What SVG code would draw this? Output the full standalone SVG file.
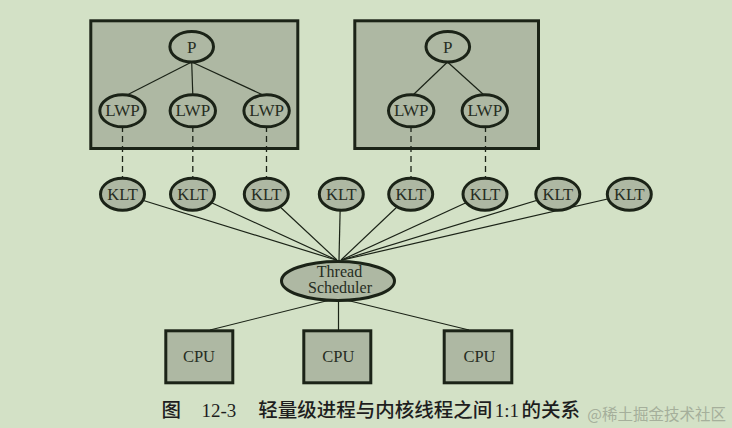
<svg xmlns="http://www.w3.org/2000/svg" width="732" height="428" viewBox="0 0 732 428">
  <style>
    .bg { fill: #d3e1c6; }
    .box { fill: #aeb8a3; stroke: #1b2317; stroke-width: 3; }
    .node { fill: #aeb8a3; stroke: #1b2317; stroke-width: 3; }
    .line { stroke: #1b2317; stroke-width: 1.2; fill: none; }
    .dash { stroke: #1b2317; stroke-width: 1.3; fill: none; stroke-dasharray: 6 4; }
    .lbl { font-family: "Liberation Serif", "Times New Roman", serif; font-size: 16.5px; fill: #262d22; text-anchor: middle; }
    .lbl17 { font-family: "Liberation Serif", "Times New Roman", serif; font-size: 17px; fill: #262d22; text-anchor: middle; }
    .sch { font-family: "Liberation Serif", "Times New Roman", serif; font-size: 16px; fill: #262d22; text-anchor: middle; }
    .cap { font-family: "Noto Sans CJK SC", sans-serif; font-size: 19.5px; font-weight: 500; fill: #1e1e1e; }
    .capn { font-family: "Liberation Serif", "Times New Roman", serif; font-size: 19px; fill: #1e1e1e; }
    .wm { font-family: "Noto Sans CJK SC", sans-serif; font-size: 15.5px; fill: #a5af9b; text-anchor: end; }
  </style>
  <rect class="bg" x="0" y="0" width="732" height="428"/>

  <g id="process1"><rect class="box" x="90.8" y="20.8" width="207" height="127.7"/></g>
  <g id="process2"><rect class="box" x="354.8" y="20.8" width="183.7" height="127.7"/></g>

  <g id="connectors">
    <line class="line" x1="191.7" y1="62" x2="127" y2="95"/>
    <line class="line" x1="191.7" y1="62" x2="192.8" y2="95"/>
    <line class="line" x1="191.7" y1="62" x2="263" y2="95"/>
    <line class="line" x1="447.5" y1="62" x2="413" y2="95"/>
    <line class="line" x1="447.5" y1="62" x2="484" y2="95"/>

    <line class="dash" x1="122.5" y1="126" x2="122.5" y2="178"/>
    <line class="dash" x1="192.8" y1="126" x2="192.8" y2="178"/>
    <line class="dash" x1="266.5" y1="126" x2="266.5" y2="178"/>
    <line class="dash" x1="411" y1="126" x2="411" y2="178"/>
    <line class="dash" x1="485.5" y1="126" x2="485.5" y2="178"/>

    <line class="line" x1="122.5" y1="194" x2="336" y2="260"/>
    <line class="line" x1="192.5" y1="194" x2="336.5" y2="260"/>
    <line class="line" x1="266.3" y1="194" x2="337" y2="260"/>
    <line class="line" x1="340.5" y1="194" x2="339" y2="260"/>
    <line class="line" x1="410.7" y1="194" x2="341" y2="260"/>
    <line class="line" x1="485" y1="194" x2="341.5" y2="260"/>
    <line class="line" x1="557.8" y1="194" x2="342" y2="260"/>
    <line class="line" x1="629.3" y1="194" x2="342.5" y2="260"/>

    <line class="line" x1="330" y1="300" x2="210" y2="330"/>
    <line class="line" x1="338.5" y1="300" x2="338.5" y2="330"/>
    <line class="line" x1="346" y1="300" x2="469" y2="330"/>
  </g>

  <g id="P1"><ellipse class="node" cx="191.7" cy="46.7" rx="21.8" ry="15.2"/><text class="lbl17" x="191.7" y="52.7">P</text></g>
  <g id="P2"><ellipse class="node" cx="447.8" cy="46.7" rx="21.8" ry="15.2"/><text class="lbl17" x="447.8" y="52.7">P</text></g>

  <g id="LWP1"><ellipse class="node" cx="122.5" cy="110.8" rx="22.7" ry="16"/><text class="lbl17" x="122.5" y="116.2">LWP</text></g>
  <g id="LWP2"><ellipse class="node" cx="192.8" cy="110.8" rx="22.7" ry="16"/><text class="lbl17" x="192.8" y="116.2">LWP</text></g>
  <g id="LWP3"><ellipse class="node" cx="266.6" cy="110.8" rx="22.7" ry="16"/><text class="lbl17" x="266.6" y="116.2">LWP</text></g>
  <g id="LWP4"><ellipse class="node" cx="411.2" cy="110.8" rx="22.7" ry="16"/><text class="lbl17" x="411.2" y="116.2">LWP</text></g>
  <g id="LWP5"><ellipse class="node" cx="484.8" cy="110.8" rx="22.7" ry="16"/><text class="lbl17" x="484.8" y="116.2">LWP</text></g>

  <g id="KLT1"><ellipse class="node" cx="122.5" cy="194.2" rx="22" ry="16"/><text class="lbl" x="122.5" y="199.8">KLT</text></g>
  <g id="KLT2"><ellipse class="node" cx="192.5" cy="194.2" rx="22" ry="16"/><text class="lbl" x="192.5" y="199.8">KLT</text></g>
  <g id="KLT3"><ellipse class="node" cx="266.3" cy="194.2" rx="22" ry="16"/><text class="lbl" x="266.3" y="199.8">KLT</text></g>
  <g id="KLT4"><ellipse class="node" cx="341.3" cy="194.2" rx="22" ry="16"/><text class="lbl" x="341.3" y="199.8">KLT</text></g>
  <g id="KLT5"><ellipse class="node" cx="410.7" cy="194.2" rx="22" ry="16"/><text class="lbl" x="410.7" y="199.8">KLT</text></g>
  <g id="KLT6"><ellipse class="node" cx="485" cy="194.2" rx="22" ry="16"/><text class="lbl" x="485" y="199.8">KLT</text></g>
  <g id="KLT7"><ellipse class="node" cx="557.8" cy="194.2" rx="22" ry="16"/><text class="lbl" x="557.8" y="199.8">KLT</text></g>
  <g id="KLT8"><ellipse class="node" cx="629.3" cy="194.2" rx="22" ry="16"/><text class="lbl" x="629.3" y="199.8">KLT</text></g>

  <g id="scheduler">
    <ellipse class="node" cx="338" cy="281" rx="56.5" ry="19.5"/>
    <text class="sch"><tspan x="339.5" y="277">Thread</tspan><tspan x="340" y="293">Scheduler</tspan></text>
  </g>

  <g id="CPU1"><rect class="box" x="165.8" y="330.8" width="67" height="52"/><text class="lbl" x="199" y="362">CPU</text></g>
  <g id="CPU2"><rect class="box" x="303.8" y="330.8" width="67" height="52"/><text class="lbl" x="338.3" y="362">CPU</text></g>
  <g id="CPU3"><rect class="box" x="444.2" y="330.8" width="67.6" height="52"/><text class="lbl" x="479.5" y="362">CPU</text></g>

  <g id="caption">
    <text class="cap" x="161.5" y="416.5">图</text>
    <text class="capn" x="201.5" y="416.5">12-3</text>
    <text class="cap" x="258.3" y="416.5">轻量级进程与内核线程之间</text>
    <text class="capn" x="494.8" y="416.5">1:1</text>
    <text class="cap" x="521.5" y="416.5">的关系</text>
  </g>
  <text class="wm" x="726" y="420">@稀土掘金技术社区</text>
</svg>
